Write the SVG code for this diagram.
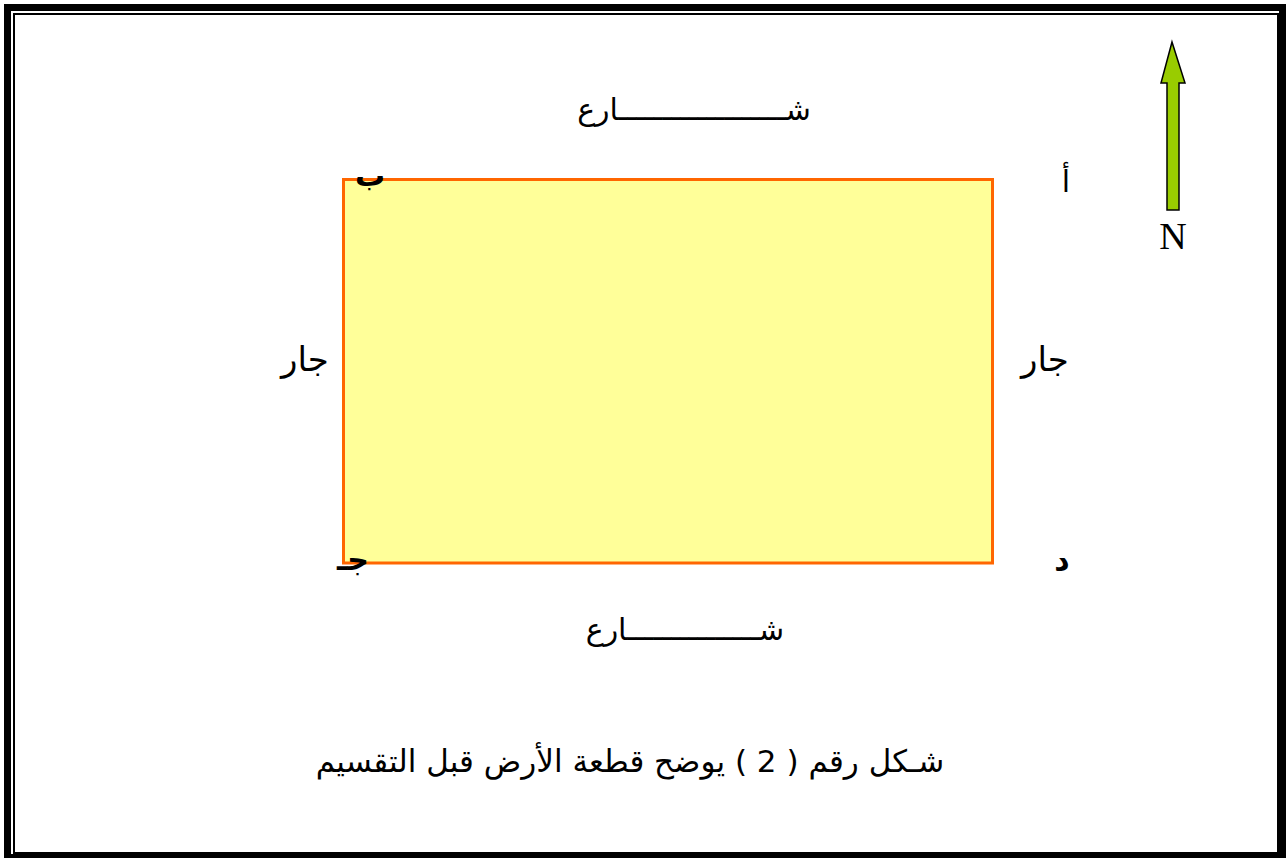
<svg xmlns="http://www.w3.org/2000/svg" width="1286" height="858" viewBox="0 0 1286 858">
<style>
.ar{font-family:"DejaVu Sans","Noto Sans",sans-serif;fill:#000;text-anchor:middle}
.b{font-weight:bold}
</style>
<rect width="1286" height="858" fill="#fff"/>
<g id="frame" fill="none" stroke="#000">
<rect x="7.5" y="7.5" width="1275" height="850" stroke-width="7"/>
<rect x="14" y="14" width="1264" height="839" stroke-width="2"/>
</g>
<g id="plot">
<rect x="343.5" y="179.5" width="649" height="383.5" fill="#FFFF99" stroke="#FF6600" stroke-width="3"/>
</g>
<g id="north">
<polygon points="1172,42 1185,83 1179,83 1179,210 1167,210 1167,83 1161,83" fill="#99CC00" stroke="#000" stroke-width="1.5"/>
<text x="1173" y="249" font-family="Liberation Serif,serif" font-size="38" text-anchor="middle">N</text>
</g>
<g id="labels">
<text class="ar" x="694" y="120" font-size="30">شـــــــــــــــــــارع</text>
<text class="ar" x="685" y="640" font-size="30">شـــــــــــــــارع</text>
<text class="ar" x="305" y="371" font-size="34">جار</text>
<text class="ar" x="1045" y="371" font-size="34">جار</text>
<text class="ar" x="1066" y="192" font-size="30">أ</text>
<text class="ar b" x="370" y="186" font-size="30">ب</text>
<text class="ar b" x="353" y="570" font-size="30">جـ</text>
<text class="ar b" x="1062" y="570" font-size="30">د</text>
<text class="ar" x="630" y="772" font-size="31">شـكل رقم ( 2 ) يوضح قطعة الأرض قبل التقسيم</text>
</g>
</svg>
